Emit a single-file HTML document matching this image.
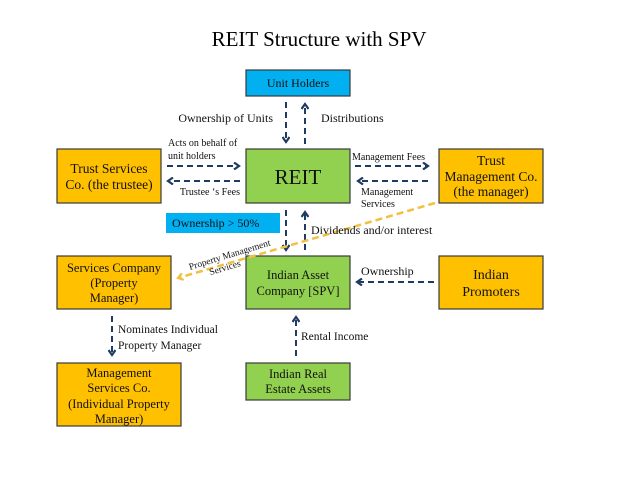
<!DOCTYPE html>
<html><head><meta charset="utf-8"><style>
body{margin:0;background:#fff;width:638px;height:479px;overflow:hidden;font-family:"Liberation Serif",serif;}
</style></head><body>
<svg width="638" height="479" xmlns="http://www.w3.org/2000/svg" font-family="Liberation Serif, serif">
<defs>
<marker id="a" markerWidth="8" markerHeight="8" refX="6" refY="4" orient="auto" markerUnits="userSpaceOnUse"><path d="M1,0.5 L6,4 L1,7.5" fill="none" stroke="#1f3b63" stroke-width="2.2"/></marker>
<marker id="y" markerWidth="8" markerHeight="8" refX="6" refY="4" orient="auto" markerUnits="userSpaceOnUse"><path d="M1,0.5 L6,4 L1,7.5" fill="none" stroke="#f0c040" stroke-width="2.2"/></marker>
</defs>
<text x="319" y="46" text-anchor="middle" font-size="21">REIT Structure with SPV</text>
<g stroke="#3a3a3a" stroke-width="1.2">
<rect x="246" y="70" width="104" height="26" fill="#00b0f0"/>
<rect x="246" y="149" width="104" height="54" fill="#92d050"/>
<rect x="57" y="149" width="104" height="54" fill="#ffc000"/>
<rect x="439" y="149" width="104" height="54" fill="#ffc000"/>
<rect x="57" y="256" width="114" height="53" fill="#ffc000"/>
<rect x="246" y="256" width="104" height="53" fill="#92d050"/>
<rect x="439" y="256" width="104" height="53" fill="#ffc000"/>
<rect x="57" y="363" width="124" height="63" fill="#ffc000"/>
<rect x="246" y="363" width="104" height="37" fill="#92d050"/>
</g>
<rect x="166" y="213" width="114" height="20" fill="#00b0f0"/>
<g stroke="#1f3b63" stroke-width="2" stroke-dasharray="6,4" fill="none">
<line x1="286" y1="102" x2="286" y2="142" marker-end="url(#a)"/>
<line x1="305" y1="144" x2="305" y2="104" marker-end="url(#a)"/>
<line x1="167" y1="166" x2="239" y2="166" marker-end="url(#a)"/>
<line x1="240" y1="181" x2="168" y2="181" marker-end="url(#a)"/>
<line x1="355" y1="166" x2="428" y2="166" marker-end="url(#a)"/>
<line x1="428" y1="181" x2="358" y2="181" marker-end="url(#a)"/>
<line x1="286" y1="210" x2="286" y2="250" marker-end="url(#a)"/>
<line x1="305" y1="250" x2="305" y2="212" marker-end="url(#a)"/>
<line x1="434" y1="282" x2="357" y2="282" marker-end="url(#a)"/>
<line x1="112" y1="316" x2="112" y2="355" marker-end="url(#a)"/>
<line x1="296" y1="356" x2="296" y2="317" marker-end="url(#a)"/>
</g>
<line x1="435" y1="203" x2="178" y2="278" stroke="#f0c040" stroke-width="2.5" stroke-dasharray="7,4" marker-end="url(#y)"/>
<g font-size="12" fill="#111">
<text x="298" y="87" text-anchor="middle">Unit Holders</text>
<text x="298" y="184" text-anchor="middle" font-size="21">REIT</text>
<text x="109" y="173" text-anchor="middle" font-size="13.5">Trust Services</text>
<text x="109" y="189" text-anchor="middle" font-size="13.5">Co. (the trustee)</text>
<text x="491" y="165" text-anchor="middle" font-size="13.5">Trust</text>
<text x="491" y="181" text-anchor="middle" font-size="13.5">Management Co.</text>
<text x="491" y="196" text-anchor="middle" font-size="13.5">(the manager)</text>
<text x="114" y="272" text-anchor="middle" font-size="12.5">Services Company</text>
<text x="114" y="287" text-anchor="middle" font-size="12.5">(Property</text>
<text x="114" y="302" text-anchor="middle" font-size="12.5">Manager)</text>
<text x="298" y="279" text-anchor="middle" font-size="12.5">Indian Asset</text>
<text x="298" y="295" text-anchor="middle" font-size="12.5">Company [SPV]</text>
<text x="491" y="279" text-anchor="middle" font-size="14">Indian</text>
<text x="491" y="296" text-anchor="middle" font-size="14">Promoters</text>
<text x="119" y="377" text-anchor="middle" font-size="12.5">Management</text>
<text x="119" y="392" text-anchor="middle" font-size="12.5">Services Co.</text>
<text x="119" y="408" text-anchor="middle" font-size="12.5">(Individual Property</text>
<text x="119" y="423" text-anchor="middle" font-size="12.5">Manager)</text>
<text x="298" y="378" text-anchor="middle" font-size="12.5">Indian Real</text>
<text x="298" y="393" text-anchor="middle" font-size="12.5">Estate Assets</text>
<text x="172" y="227">Ownership  &gt; 50%</text>
<text x="273" y="122" text-anchor="end" font-size="12">Ownership of Units</text>
<text x="321" y="122" font-size="12">Distributions</text>
<text x="168" y="146" font-size="10">Acts on behalf of</text>
<text x="168" y="159" font-size="10">unit holders</text>
<text x="240" y="195" text-anchor="end" font-size="10">Trustee ‘s Fees</text>
<text x="352" y="160" font-size="10">Management Fees</text>
<text x="361" y="195" font-size="10">Management</text>
<text x="361" y="207" font-size="10">Services</text>
<text x="311" y="234" font-size="12">Dividends and/or interest</text>
<text x="361" y="275" font-size="12">Ownership</text>
<text x="118" y="333" font-size="11.5">Nominates Individual</text>
<text x="118" y="349" font-size="11.5">Property Manager</text>
<text x="301" y="340" font-size="11.5">Rental Income</text>
<g transform="translate(190,270) rotate(-17)" font-size="9.5"><text x="0" y="0">Property Management</text><text x="18" y="11">Services</text></g>
</g>
</svg>
</body></html>
